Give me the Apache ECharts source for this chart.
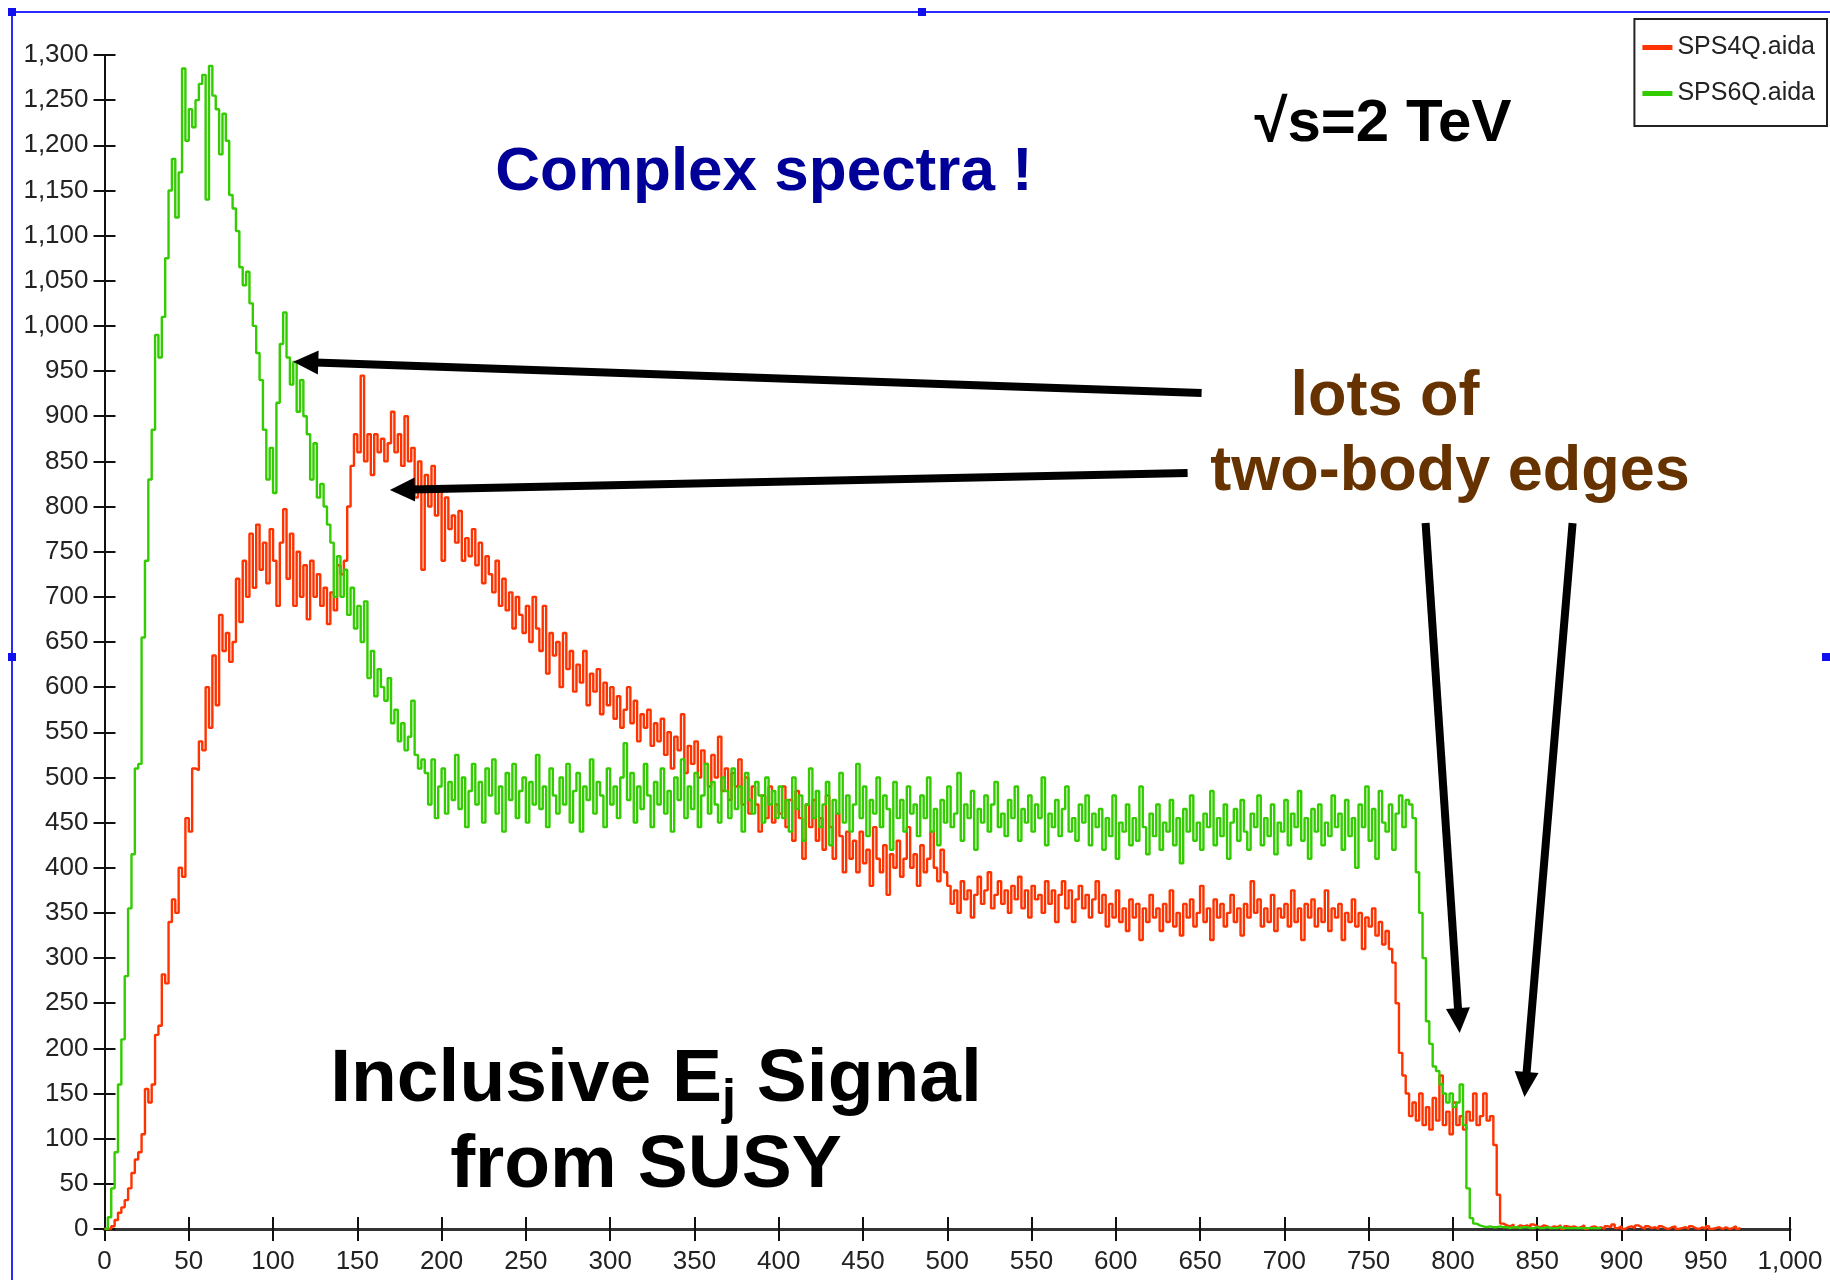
<!DOCTYPE html>
<html><head><meta charset="utf-8">
<script src="https://cdn.jsdelivr.net/npm/echarts@6/dist/echarts.min.js"></script>
<style>html,body{margin:0;padding:0;background:#fff}#c{width:1830px;height:1280px}</style>
</head><body><div id="c"></div>
<script>
// ---- data (histogram bins of width 2, starting at x = 0) ----
const binWidth = 2;
const seriesNames = ['SPS4Q.aida', 'SPS6Q.aida'];
const sps4q = [
0,0,3,10,18,24,32,45,62,77,
85,105,155,140,160,215,225,282,272,340,
365,350,400,390,455,440,510,508,540,530,
600,555,635,580,680,640,660,628,650,720,
672,740,700,770,710,780,730,760,715,775,
740,690,760,797,720,770,690,750,700,735,
675,740,700,725,690,710,670,705,685,735,
725,740,800,845,880,860,945,850,880,835,
880,860,875,850,870,905,860,880,845,900,
850,865,810,850,730,835,800,845,790,820,
740,810,775,790,760,795,740,765,745,775,
735,760,715,745,725,705,740,690,720,685,
705,665,700,680,660,690,650,700,665,640,
690,615,660,635,650,600,660,620,640,595,
625,605,640,580,615,595,620,570,605,580,
600,565,590,555,575,600,560,585,540,570,
555,575,535,560,540,565,525,550,510,545,
530,570,505,535,515,540,500,530,515,490,
525,500,545,485,510,475,505,490,520,470,
500,460,490,470,440,480,455,490,450,470,
460,490,445,475,430,485,455,410,470,445,
475,430,455,420,480,445,410,460,435,395,
440,410,430,395,440,405,420,380,445,410,
395,425,370,415,400,430,390,410,445,400,
415,380,425,395,410,440,400,385,420,395,
380,360,375,350,385,365,375,345,370,390,
360,375,395,355,370,385,360,375,350,380,
365,390,355,375,345,380,365,370,350,385,
360,375,340,370,385,355,375,340,365,380,
355,370,345,365,385,350,370,335,360,345,
375,340,355,330,365,345,360,320,355,340,
370,345,355,330,360,340,375,335,350,325,
360,345,365,335,350,380,340,355,320,365,
345,360,335,350,370,340,355,325,360,345,
385,350,365,335,355,340,370,330,355,345,
360,335,375,340,355,320,360,345,365,335,
355,340,375,330,355,345,360,320,350,340,
365,335,350,310,345,335,355,325,340,315,
330,310,295,250,195,170,150,125,140,120,
150,115,135,110,145,120,170,115,130,105,
140,115,125,110,130,120,150,115,125,150,
120,125,93,38,6,
4,3,5,2,4,3,4,2,5,3,
2,4,3,1,3,2,4,0,3,2,
3,1,2,4,0,2,3,1,2,0,
3,2,5,1,3,0,2,3,1,4,
2,0,3,1,2,0,3,1,0,2,
3,0,1,2,0,3,1,0,2,0,
3,0,1,2,0,2,0,1,3,0,2
];
const sps6q = [
0,13,45,85,160,210,280,355,415,510,
515,655,740,830,885,990,965,1010,1075,1150,
1185,1120,1170,1285,1205,1240,1220,1250,1268,1278,
1140,1288,1255,1240,1190,1235,1205,1145,1130,1105,
1065,1045,1060,1025,1000,970,940,885,830,865,
815,915,980,1015,965,935,960,905,940,900,
880,830,870,810,825,800,780,760,700,745,
700,730,680,710,665,690,650,695,610,640,
590,620,600,585,610,560,575,540,560,530,
545,585,525,510,520,
505,470,520,455,490,510,460,495,475,525,
465,500,445,485,515,470,495,450,510,480,
520,460,490,440,505,475,515,455,485,500,
450,495,470,525,465,490,445,510,480,460,
500,470,515,450,485,505,440,490,475,520,
460,495,480,445,510,470,490,455,500,538,
475,505,450,490,465,515,480,445,495,470,
510,460,485,440,500,475,520,455,490,465,
505,445,480,515,460,495,470,450,500,485,
455,510,465,490,440,505,475,460,495,480,
450,500,470,485,455,
490,455,475,440,500,465,480,430,470,510,
455,485,445,470,495,425,475,460,505,450,
480,440,470,515,455,490,435,475,460,500,
445,480,465,420,495,455,475,440,490,460,
470,435,480,455,500,440,465,425,475,450,
490,445,460,505,430,470,455,485,420,465,
450,480,440,470,495,445,460,435,475,455,
490,430,465,450,480,440,470,455,500,425,
460,445,475,435,465,490,440,455,430,470,
450,480,425,460,445,
465,420,455,435,480,410,450,440,470,425,
455,430,490,445,415,460,435,470,420,450,
440,475,425,455,405,465,440,480,430,450,
420,460,445,485,425,455,435,470,410,450,
465,430,475,440,420,460,445,480,425,455,
435,470,415,450,440,475,425,460,445,485,
430,455,410,465,440,470,425,450,435,480,
445,460,420,475,435,455,400,470,445,490,
430,465,410,485,450,440,470,420,460,480,
445,475,
470,455,395,350,300,230,205,180,175,160,
150,140,150,135,140,160,115,45,12,6,4,
3,2,3,2,2,3,2,2,1,2,
2,1,2,2,1,1,2,1,1,2,
1,1,1,2,1,1,1,1,1,1,
1,1,1,1,1,1,1
];
const xRange = [0, 1000];
const yRange = [0, 1300];
const tickStep = 50;
// annotation arrows in data coordinates [x, y]
const arrowTails = [[650.9, 925.7], [642.6, 837.1], [783.8, 781.7], [871.0, 781.7]];
const arrowTips  = [[112.0, 960.4], [169.3, 818.3], [804.0, 217.0], [842.5, 146.2]];

// ---- chart ----
const NARROW = "'Liberation Sans Narrow','Arial Narrow','Liberation Sans',sans-serif";
const BOLD = "'Liberation Sans',Arial,sans-serif";
const toPairs = arr => arr.map((v, i) => [i * binWidth, v]);
const fmt = v => Number(v).toLocaleString('en-US');

const chart = echarts.init(document.getElementById('c'));
const axisCommonX = {type: 'value', min: xRange[0], max: xRange[1], interval: tickStep, splitLine: {show: false}};
const axisCommonY = {type: 'value', min: yRange[0], max: yRange[1], interval: tickStep, splitLine: {show: false}};
chart.setOption({
  animation: false,
  backgroundColor: '#fff',
  grid: {left: 104.5, right: 40, top: 55, bottom: 51, outerBoundsMode: 'none'},
  legend: {
    data: seriesNames, orient: 'vertical', right: 3, top: 19,
    padding: [16, 12, 20, 8], itemGap: 21, itemWidth: 30, itemHeight: 5, icon: 'rect',
    textStyle: {fontSize: 25, fontFamily: NARROW, color: '#222'},
    borderColor: '#222', borderWidth: 2, backgroundColor: '#fff'
  },
  xAxis: [
    Object.assign({}, axisCommonX, {
      position: 'bottom',
      axisLine: {lineStyle: {color: '#333', width: 3}},
      axisTick: {length: 12, lineStyle: {color: '#111', width: 2}},
      axisLabel: {fontSize: 26, fontFamily: NARROW, color: '#222', margin: 20, formatter: fmt}
    }),
    Object.assign({}, axisCommonX, {
      position: 'bottom',
      axisLine: {show: false},
      axisTick: {inside: true, length: 12, lineStyle: {color: '#111', width: 2}},
      axisLabel: {show: false}
    })
  ],
  yAxis: [
    Object.assign({}, axisCommonY, {
      position: 'left',
      axisLine: {show: true, lineStyle: {color: '#111', width: 2}},
      axisTick: {show: true, length: 11, lineStyle: {color: '#111', width: 2}},
      axisLabel: {fontSize: 26, fontFamily: NARROW, color: '#222', margin: 16, formatter: fmt}
    }),
    Object.assign({}, axisCommonY, {
      position: 'left',
      axisLine: {show: false},
      axisTick: {show: true, inside: true, length: 11, lineStyle: {color: '#111', width: 2}},
      axisLabel: {show: false}
    })
  ],
  series: [
    {name: seriesNames[0], type: 'line', step: 'end', data: toPairs(sps4q), showSymbol: false,
     xAxisIndex: 0, yAxisIndex: 0, color: '#ff3300', lineStyle: {width: 2.4, color: '#ff3300'}, z: 3},
    {name: seriesNames[1], type: 'line', step: 'end', data: toPairs(sps6q), showSymbol: false,
     xAxisIndex: 0, yAxisIndex: 0, color: '#33cc00', lineStyle: {width: 2.4, color: '#33cc00'}, z: 4}
  ]
});

const toPx = p => chart.convertToPixel({xAxisIndex: 0, yAxisIndex: 0}, p);
const g = [];
// blue selection frame
const blue = '#2a2aff';
g.push({type: 'line', shape: {x1: 12, y1: 12, x2: 1830, y2: 12}, style: {stroke: blue, lineWidth: 2}, z: 50});
g.push({type: 'line', shape: {x1: 12, y1: 12, x2: 12, y2: 1280}, style: {stroke: blue, lineWidth: 2}, z: 50});
[[12, 12], [922, 12], [12, 657], [1826, 657]].forEach(p => {
  g.push({type: 'rect', shape: {x: p[0] - 4, y: p[1] - 4, width: 8, height: 8}, style: {fill: '#1010ee'}, z: 51});
});
// texts
const txt = (text, x, y, size, color) => ({type: 'text', x: x, y: y, z: 60,
  style: {text: text, font: 'bold ' + size + 'px ' + BOLD, fill: color, textAlign: 'center', textVerticalAlign: 'middle'}});
g.push(txt('Complex spectra !', 764, 173, 62, '#000099'));
g.push(txt('\u221As=2 TeV', 1383, 124, 60, '#000'));
g.push(txt('lots of', 1385, 398, 63, '#663300'));
g.push(txt('two-body edges', 1450, 473, 63, '#663300'));
g.push({type: 'text', x: 656, y: 1080, z: 60, style: {
  text: '{m|Inclusive E}{s|j}{m| Signal}', textAlign: 'center', textVerticalAlign: 'middle',
  rich: {
    m: {font: 'bold 75px ' + BOLD, fill: '#000', lineHeight: 90, verticalAlign: 'middle'},
    s: {font: 'bold 50px ' + BOLD, fill: '#000', lineHeight: 50, verticalAlign: 'bottom'}
  }}});
g.push(txt('from SUSY', 646, 1166, 75, '#000'));
// arrows
arrowTails.forEach((tail, k) => {
  const s = toPx(tail), t = toPx(arrowTips[k]);
  const dx = t[0] - s[0], dy = t[1] - s[1], L = Math.hypot(dx, dy);
  const ux = dx / L, uy = dy / L, hl = 25, hw = 12;
  const bx = t[0] - ux * hl, by = t[1] - uy * hl;
  g.push({type: 'line', z: 55, shape: {x1: s[0], y1: s[1], x2: bx + ux * 3, y2: by + uy * 3}, style: {stroke: '#000', lineWidth: 8}});
  g.push({type: 'polygon', z: 55, shape: {points: [[t[0], t[1]], [bx - uy * hw, by + ux * hw], [bx + uy * hw, by - ux * hw]]}, style: {fill: '#000'}});
});
chart.setOption({graphic: g});
</script>
</body></html>
